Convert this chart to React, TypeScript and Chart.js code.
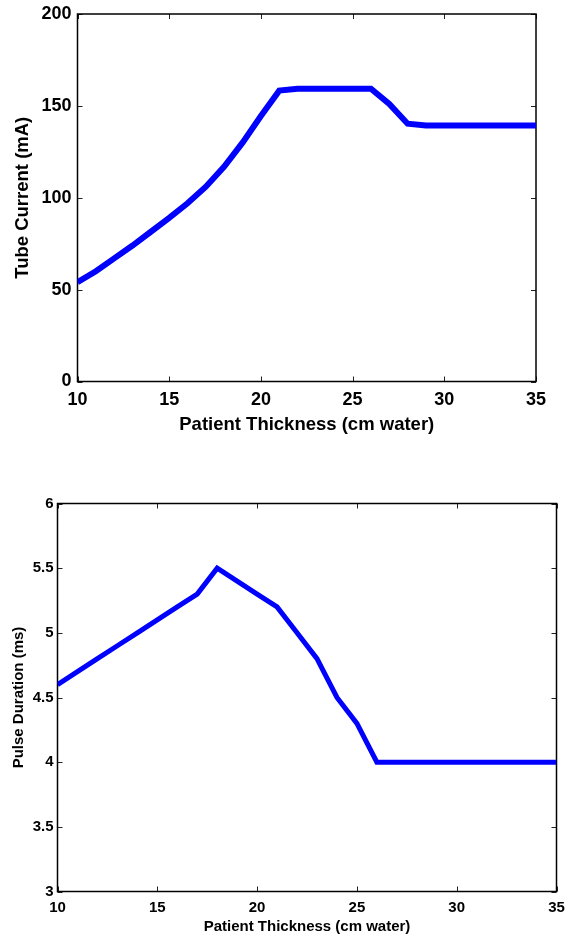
import React, { useEffect, useRef } from 'react';
import { Chart, registerables } from 'chart.js';

Chart.register(...registerables);

const thickness = [10, 11, 12, 13, 14, 15, 16, 17, 18, 19, 20, 21, 22, 23, 24, 25, 26, 27, 28, 29, 30, 31, 32, 33, 34, 35];
const tubeCurrent = [54, 60, 67, 74, 81.5, 89, 97, 106, 117, 130, 144.5, 158.3, 159.3, 159.3, 159.3, 159.3, 159.3, 151, 140.3, 139.3, 139.3, 139.3, 139.3, 139.3, 139.3, 139.3];
const pulseDuration = [4.6, 4.7, 4.8, 4.9, 5.0, 5.1, 5.2, 5.3, 5.5, 5.4, 5.3, 5.2, 5.0, 4.8, 4.5, 4.3, 4.0, 4.0, 4.0, 4.0, 4.0, 4.0, 4.0, 4.0, 4.0, 4.0];

const xTitle = 'Patient Thickness (cm water)';
const topYTitle = 'Tube Current (mA)';
const bottomYTitle = 'Pulse Duration (ms)';

const FONT = "'Liberation Sans', Arial, Helvetica, sans-serif";

const framePlugin = {
  id: 'frame',
  beforeDatasetsDraw(chart: any) {
    const { ctx, chartArea } = chart;
    const { left, right, top, bottom } = chartArea;
    const x = chart.scales.x;
    const y = chart.scales.y;
    const tl = 5;
    ctx.save();
    ctx.strokeStyle = '#222';
    ctx.lineWidth = 1;
    ctx.beginPath();
    x.ticks.forEach((t: any) => {
      const px = Math.round(x.getPixelForValue(t.value)) + 0.5;
      ctx.moveTo(px, bottom);
      ctx.lineTo(px, bottom - tl);
      ctx.moveTo(px, top);
      ctx.lineTo(px, top + tl);
    });
    y.ticks.forEach((t: any) => {
      const py = Math.round(y.getPixelForValue(t.value)) + 0.5;
      ctx.moveTo(left, py);
      ctx.lineTo(left + tl, py);
      ctx.moveTo(right, py);
      ctx.lineTo(right - tl, py);
    });
    ctx.stroke();
    ctx.strokeStyle = '#000';
    ctx.lineWidth = 1.5;
    ctx.strokeRect(left, top, right - left, bottom - top);
    ctx.restore();
  },
};

type Cfg = {
  data: number[];
  yMin: number;
  yMax: number;
  yStep: number;
  yTitle: string;
  tickSize: number;
  titleSize: number;
  lineWidth: number;
  padding: { left: number; top: number; right: number; bottom: number };
  yAxisWidth: number;
  xAxisHeight: number;
  yTickPad: number;
  xTickPad: number;
  yTitlePad: number;
  xTitlePad: number;
};

function makeChart(canvas: HTMLCanvasElement, c: Cfg) {
  const tickFont = { family: FONT, size: c.tickSize, weight: 'bold' as const };
  const titleFont = { family: FONT, size: c.titleSize, weight: 'bold' as const };
  return new Chart(canvas, {
    type: 'line',
    data: {
      datasets: [
        {
          data: thickness.map((t, i) => ({ x: t, y: c.data[i] })),
          borderColor: '#0000FF',
          borderWidth: c.lineWidth,
          pointRadius: 0,
          tension: 0,
          fill: false,
        },
      ],
    },
    options: {
      responsive: false,
      animation: false,
      devicePixelRatio: 1,
      layout: { padding: c.padding },
      plugins: { legend: { display: false }, tooltip: { enabled: false } },
      scales: {
        x: {
          type: 'linear',
          min: 10,
          max: 35,
          grid: { display: false, drawTicks: false },
          border: { display: false },
          ticks: { stepSize: 5, font: tickFont, color: '#000', padding: c.xTickPad, maxRotation: 0 },
          title: { display: true, text: xTitle, font: titleFont, color: '#000', padding: { top: 0, bottom: c.xTitlePad } },
          afterFit: (s: any) => {
            s.height = c.xAxisHeight;
            s.paddingLeft = 0;
            s.paddingRight = 0;
          },
        },
        y: {
          type: 'linear',
          min: c.yMin,
          max: c.yMax,
          grid: { display: false, drawTicks: false },
          border: { display: false },
          ticks: { stepSize: c.yStep, font: tickFont, color: '#000', padding: c.yTickPad, callback: (v: any) => String(v) },
          title: { display: true, text: c.yTitle, font: titleFont, color: '#000', padding: { top: c.yTitlePad, bottom: 0 } },
          afterFit: (s: any) => {
            s.width = c.yAxisWidth;
            s.paddingTop = 0;
            s.paddingBottom = 0;
          },
        },
      },
    },
    plugins: [framePlugin],
  });
}

export default function App() {
  const topRef = useRef<HTMLCanvasElement>(null);
  const botRef = useRef<HTMLCanvasElement>(null);

  useEffect(() => {
    const a = makeChart(topRef.current!, {
      data: tubeCurrent,
      yMin: 0,
      yMax: 200,
      yStep: 50,
      yTitle: topYTitle,
      tickSize: 18,
      titleSize: 18.5,
      lineWidth: 6,
      padding: { left: 0, top: 14, right: 30, bottom: 24 },
      yAxisWidth: 77.5,
      xAxisHeight: 54.5,
      yTickPad: 6,
      xTickPad: 8,
      yTitlePad: 12,
      xTitlePad: 0,
    });
    const b = makeChart(botRef.current!, {
      data: pulseDuration,
      yMin: 3,
      yMax: 6,
      yStep: 0.5,
      yTitle: bottomYTitle,
      tickSize: 15,
      titleSize: 15,
      lineWidth: 5,
      padding: { left: 0, top: 43.5, right: 9.5, bottom: 0 },
      yAxisWidth: 57.5,
      xAxisHeight: 44.5,
      yTickPad: 4,
      xTickPad: 7,
      yTitlePad: 10,
      xTitlePad: 0,
    });
    return () => {
      a.destroy();
      b.destroy();
    };
  }, []);

  return (
    <div style={{ position: 'absolute', left: 0, top: 0, width: 566, height: 936, background: '#fff' }}>
      <canvas ref={topRef} width={566} height={460} style={{ position: 'absolute', left: 0, top: 0, width: 566, height: 460 }} />
      <canvas ref={botRef} width={566} height={476} style={{ position: 'absolute', left: 0, top: 460, width: 566, height: 476 }} />
    </div>
  );
}
